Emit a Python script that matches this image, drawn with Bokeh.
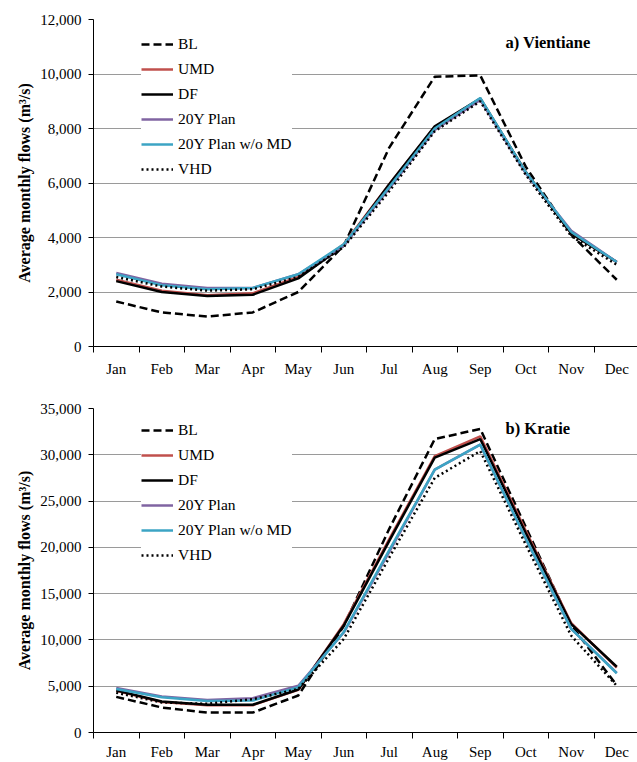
from bokeh.plotting import figure
from bokeh.layouts import column
from bokeh.models import (FixedTicker, NumeralTickFormatter, Legend, LegendItem,
                          Label, Range1d)
from bokeh.embed import file_html
from bokeh.resources import INLINE

months = ["Jan", "Feb", "Mar", "Apr", "May", "Jun", "Jul", "Aug", "Sep", "Oct", "Nov", "Dec"]
month_idx = list(range(1, 13))

series_names = ["BL", "UMD", "DF", "20Y Plan", "20Y Plan w/o MD", "VHD"]

# a) Vientiane
vte_bl = [1650, 1250, 1100, 1250, 2000, 3700, 7300, 9900, 9950, 6600, 4100, 2450]
vte_umd = [2450, 2050, 1880, 1950, 2550, 3750, 5950, 8050, 9080, 6400, 4150, 3100]
vte_df = [2400, 2000, 1850, 1900, 2500, 3700, 5950, 8080, 9100, 6400, 4150, 3100]
vte_20y = [2700, 2300, 2150, 2150, 2650, 3700, 5800, 7950, 9050, 6350, 4250, 3100]
vte_20y_womd = [2650, 2250, 2100, 2150, 2650, 3750, 5850, 8000, 9120, 6400, 4200, 3100]
vte_vhd = [2550, 2200, 2050, 2100, 2550, 3650, 5700, 7900, 9000, 6300, 4050, 3000]

# b) Kratie
kra_bl = [3850, 2700, 2150, 2150, 4000, 11500, 22000, 31700, 32800, 22200, 11600, 5100]
kra_umd = [4500, 3300, 2950, 2950, 4600, 11700, 20900, 29850, 32000, 21800, 11800, 7000]
kra_df = [4550, 3350, 3000, 3000, 4650, 11550, 20700, 29700, 31700, 21550, 11700, 7100]
kra_20y = [4800, 3900, 3500, 3700, 5050, 10800, 19500, 28400, 31100, 20950, 11200, 6450]
kra_20y_womd = [4700, 3800, 3400, 3450, 4900, 10850, 19700, 28400, 31100, 20950, 11200, 6400]
kra_vhd = [4300, 3250, 3100, 3600, 4700, 10100, 18900, 27500, 30400, 20300, 10450, 5050]

vte_ticks = [0, 2000, 4000, 6000, 8000, 10000, 12000]
kra_ticks = [0, 5000, 10000, 15000, 20000, 25000, 30000, 35000]

styles = [
    dict(color="black", line_dash="8 4", line_width=2.5),
    dict(color="#C0504D", line_dash="solid", line_width=2.5),
    dict(color="black", line_dash="solid", line_width=2.5),
    dict(color="#8064A2", line_dash="solid", line_width=2.5),
    dict(color="#3CA4C4", line_dash="solid", line_width=2.5),
    dict(color="black", line_dash="2 3", line_width=2.5),
]

SERIF = "Liberation Serif"
FRAME_H = 327
LEG_H = 4 + 6 * 18 + 5 * 6.6 + 4


def make_panel(series, yticks, title, height, top, bottom, label_standoff, title_dy):
    p = figure(width=637, height=height, output_backend="svg", toolbar_location=None,
               x_range=Range1d(0.5, 12.456), y_range=Range1d(yticks[0], yticks[-1]),
               min_border_left=93, min_border_right=0, min_border_top=top,
               min_border_bottom=bottom)
    p.outline_line_color = None
    p.background_fill_color = "white"
    p.border_fill_color = "white"

    items = []
    for name, ys, st in zip(series_names, series, styles):
        r = p.line(month_idx, ys, line_color=st["color"], line_width=st["line_width"],
                   line_dash=st["line_dash"])
        items.append(LegendItem(label=name, renderers=[r]))

    # x axis
    xa = p.xaxis[0]
    xa.ticker = FixedTicker(ticks=month_idx, minor_ticks=[m - 0.5 for m in month_idx] + [12.5])
    xa.major_label_overrides = {m: lab for m, lab in zip(month_idx, months)}
    xa.major_tick_out = 0
    xa.major_tick_in = 0
    xa.minor_tick_out = 6
    xa.minor_tick_in = 0
    xa.minor_tick_line_color = "black"
    xa.axis_line_color = "black"
    xa.major_label_text_font = SERIF
    xa.major_label_text_font_size = "15px"
    xa.major_label_text_color = "black"
    xa.major_label_standoff = label_standoff

    # y axis
    ya = p.yaxis[0]
    ya.ticker = FixedTicker(ticks=yticks)
    ya.formatter = NumeralTickFormatter(format="0,0")
    ya.major_tick_out = 5
    ya.major_tick_in = 0
    ya.minor_tick_out = 0
    ya.minor_tick_in = 0
    ya.axis_line_color = "black"
    ya.major_tick_line_color = "black"
    ya.major_label_text_font = SERIF
    ya.major_label_text_font_size = "15px"
    ya.major_label_text_color = "black"
    ya.major_label_standoff = 7
    ya.axis_label = "Average monthly flows (m³/s)"
    ya.axis_label_text_font = SERIF
    ya.axis_label_text_font_size = "16px"
    ya.axis_label_text_font_style = "bold"
    ya.axis_label_text_color = "black"
    ya.axis_label_standoff = 4

    p.xgrid.visible = False
    p.ygrid.grid_line_color = "#9a9a9a"
    p.ygrid.grid_line_width = 1

    legend = Legend(items=items, location=(48, FRAME_H - 10 - LEG_H),
                    padding=4, spacing=7, glyph_width=32, glyph_height=18,
                    label_height=18, label_standoff=5,
                    label_text_font=SERIF, label_text_font_size="15.5px",
                    label_text_color="black",
                    border_line_color=None, background_fill_color="white",
                    background_fill_alpha=1.0, margin=0)
    p.add_layout(legend, "center")

    p.add_layout(Label(x=412, y=FRAME_H - title_dy, x_units="screen", y_units="screen",
                       text=title, text_font=SERIF, text_font_size="16.5px",
                       text_font_style="bold", text_baseline="middle",
                       text_color="black"))
    return p


p1 = make_panel([vte_bl, vte_umd, vte_df, vte_20y, vte_20y_womd, vte_vhd], vte_ticks,
                "a) Vientiane", 380, 19, 34, 8, 23)
p2 = make_panel([kra_bl, kra_umd, kra_df, kra_20y, kra_20y_womd, kra_vhd], kra_ticks,
                "b) Kratie", 382, 28, 27, 5, 23)

layout = column(p1, p2, spacing=0)
open("out.html", "w").write(file_html(layout, INLINE))
